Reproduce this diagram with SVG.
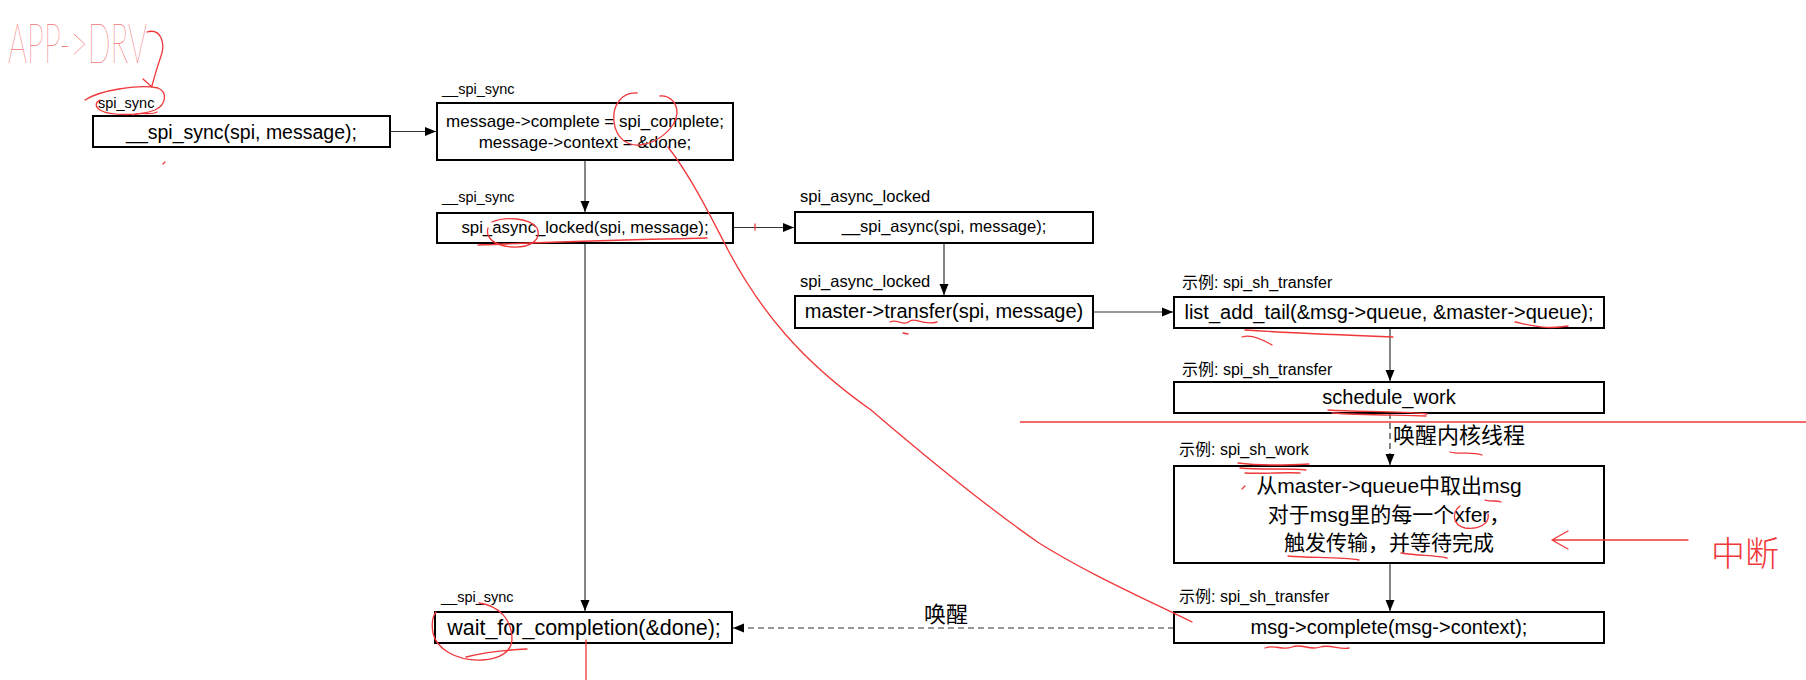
<svg xmlns="http://www.w3.org/2000/svg" width="1806" height="680" viewBox="0 0 1806 680">
<style>
.box{fill:#fff;stroke:#000;stroke-width:2}
.conn{stroke:#333;stroke-width:1.2;fill:none}
.dash{stroke-dasharray:6 4}
.t{font-family:"Liberation Sans","Noto Sans CJK SC",sans-serif;fill:#000;text-anchor:middle}
.lbl{font-family:"Liberation Sans","Noto Sans CJK SC",sans-serif;fill:#000}
.red{stroke:#f0373a;stroke-width:1.3;fill:none;stroke-linecap:round;stroke-linejoin:round}
</style>
<defs>
<marker id="ah" markerUnits="userSpaceOnUse" markerWidth="12" markerHeight="10" refX="11" refY="5" orient="auto"><path d="M0,0.5 L11,5 L0,9.5 Z" fill="#000"/></marker>
</defs>
<rect width="1806" height="680" fill="#fff"/>

<g id="connectors">
<line class="conn" x1="390" y1="131.5" x2="436" y2="131.5" marker-end="url(#ah)"/>
<line class="conn" x1="585" y1="160" x2="585" y2="212" marker-end="url(#ah)"/>
<line class="conn" x1="585" y1="243" x2="585" y2="611" marker-end="url(#ah)"/>
<line class="conn" x1="733" y1="227.5" x2="794" y2="227.5" marker-end="url(#ah)"/>
<line class="conn" x1="944" y1="243" x2="944" y2="295" marker-end="url(#ah)"/>
<line class="conn" x1="1093" y1="312" x2="1173" y2="312" marker-end="url(#ah)"/>
<line class="conn" x1="1390" y1="328" x2="1390" y2="381" marker-end="url(#ah)"/>
<line class="conn dash" x1="1390" y1="413" x2="1390" y2="465" marker-end="url(#ah)"/>
<text class="lbl" x="1393" y="443" font-size="22">唤醒内核线程</text>
<line class="conn" x1="1390" y1="563" x2="1390" y2="611" marker-end="url(#ah)"/>
<line class="conn dash" x1="1174" y1="628" x2="733" y2="628" marker-end="url(#ah)"/>
<text class="t" x="946" y="622" font-size="22">唤醒</text>
</g>

<g id="n1">
<text class="lbl" x="98" y="108" font-size="14.5">spi_sync</text>
<rect class="box" x="93" y="116" width="297" height="31"/>
<text class="t" x="241.5" y="139" font-size="19.5">__spi_sync(spi, message);</text>
</g>
<g id="n2">
<text class="lbl" x="442" y="94" font-size="14.5">__spi_sync</text>
<rect class="box" x="437" y="103" width="296" height="57"/>
<text class="t" x="585" y="127" font-size="17">message-&gt;complete = spi_complete;</text>
<text class="t" x="585" y="148" font-size="17">message-&gt;context = &amp;done;</text>
</g>
<g id="n3">
<text class="lbl" x="442" y="202" font-size="14.5">__spi_sync</text>
<rect class="box" x="437" y="213" width="296" height="30"/>
<text class="t" x="585" y="233" font-size="16.8">spi_async_locked(spi, message);</text>
</g>
<g id="n4">
<text class="lbl" x="800" y="202" font-size="16.5">spi_async_locked</text>
<rect class="box" x="795" y="212" width="298" height="31"/>
<text class="t" x="944" y="232" font-size="16.5">__spi_async(spi, message);</text>
</g>
<g id="n5">
<text class="lbl" x="800" y="287" font-size="16.5">spi_async_locked</text>
<rect class="box" x="795" y="296" width="298" height="32"/>
<text class="t" x="944" y="318" font-size="20">master-&gt;transfer(spi, message)</text>
</g>
<g id="n6">
<text class="lbl" x="1182" y="288" font-size="16">示例: spi_sh_transfer</text>
<rect class="box" x="1174" y="297" width="430" height="31"/>
<text class="t" x="1389" y="319" font-size="20">list_add_tail(&amp;msg-&gt;queue, &amp;master-&gt;queue);</text>
</g>
<g id="n7">
<text class="lbl" x="1182" y="375" font-size="16">示例: spi_sh_transfer</text>
<rect class="box" x="1174" y="382" width="430" height="31"/>
<text class="t" x="1389" y="404" font-size="20">schedule_work</text>
</g>
<g id="n8">
<text class="lbl" x="1179" y="455" font-size="16">示例: spi_sh_work</text>
<rect class="box" x="1174" y="466" width="430" height="97"/>
<text class="t" x="1389" y="493" font-size="21">从master-&gt;queue中取出msg</text>
<text class="t" x="1389" y="522" font-size="21">对于msg里的每一个xfer，</text>
<text class="t" x="1389" y="550" font-size="21">触发传输，并等待完成</text>
</g>
<g id="n9">
<text class="lbl" x="1179" y="602" font-size="16">示例: spi_sh_transfer</text>
<rect class="box" x="1174" y="612" width="430" height="31"/>
<text class="t" x="1389" y="634" font-size="20">msg-&gt;complete(msg-&gt;context);</text>
</g>
<g id="n10">
<text class="lbl" x="441" y="602" font-size="14.5">__spi_sync</text>
<rect class="box" x="435" y="612" width="297" height="31"/>
<text class="t" x="584" y="635" font-size="21.5">wait_for_completion(&amp;done);</text>
</g>

<g id="annotations">
<text x="8" y="63" font-family="Lato, DejaVu Sans, sans-serif" font-weight="100" font-size="56" textLength="139" lengthAdjust="spacingAndGlyphs" fill="#f0373a">APP-&gt;DRV</text>
<path class="red" d="M147,32 C160,28 166,42 161,56 C157,68 154,78 152,86 M143,79 L152,87"/>
<path class="red" d="M85,100 C100,90 140,84 158,88 C168,92 166,105 155,110 C140,116 110,116 100,110 C94,106 96,102 100,100"/>
<path class="red" d="M133,115 C140,111 150,116 157,112"/>
<path class="red" d="M163,164 L165,162"/>
<path class="red" d="M637,93 C622,92 612,105 614,122 C616,138 627,146 640,145 C658,143 676,128 677,113 C677,100 667,95 660,96"/>
<path class="red" d="M668,147 C690,175 710,215 728,250 C760,310 800,360 871,410 C920,452 980,502 1039,543 C1085,572 1143,598 1192,622"/>
<path class="red" d="M492,222 C505,216 530,218 537,228 C542,240 530,248 512,247 C495,246 485,238 488,228"/>
<path class="red" d="M478,245 C550,242 620,240 707,238"/>
<path class="red" d="M755,224 L755,230"/>
<path class="red" d="M890,322 C897,318 903,327 910,321 C916,317 922,326 937,322 M903,333 L908,334"/>
<path class="red" d="M1245,330 C1290,333 1340,335 1393,337 M1242,337 C1250,334 1262,339 1272,345"/>
<path class="red" d="M1515,322 C1530,325 1545,330 1568,326"/>
<path class="red" d="M1328,410 C1360,412 1395,411 1427,414 M1332,413 C1360,415 1395,415 1426,416"/>
<path class="red" d="M1450,452 C1460,455 1470,451 1482,455"/>
<line x1="1020" y1="422" x2="1806" y2="422" stroke="#f0373a" stroke-width="1.3"/>
<path class="red" d="M1238,463 C1260,466 1290,465 1309,464 M1240,468 C1265,470 1290,468 1306,470 M1245,473 C1265,474 1285,472 1300,473"/>
<path class="red" d="M1242,489 L1245,486"/>
<path class="red" d="M1485,500 C1492,502 1497,500 1501,502"/>
<path class="red" d="M1460,506 C1452,512 1452,525 1465,528 C1478,530 1490,524 1488,514"/>
<path class="red" d="M1288,556 C1310,558 1340,557 1359,560"/>
<path class="red" d="M1401,553 C1420,556 1435,555 1447,558"/>
<path class="red" d="M1688,540 L1552,540 M1568,531 L1552,540 L1568,549"/>
<text x="1711" y="566" font-family="Noto Sans CJK SC, sans-serif" font-weight="300" font-size="34" fill="#f0373a">中断</text>
<path class="red" d="M1265,648 C1275,644 1282,651 1292,647 C1302,643 1310,651 1320,647 C1330,644 1340,650 1349,648"/>
<path class="red" d="M479,603 C500,606 512,620 512,640 C511,652 500,659 482,660 C455,661 436,648 433,633 C431,622 433,616 436,612"/>
<path class="red" d="M466,657 C485,652 505,650 527,649"/>
<path class="red" d="M586,640 L586,680"/>
</g>
</svg>
